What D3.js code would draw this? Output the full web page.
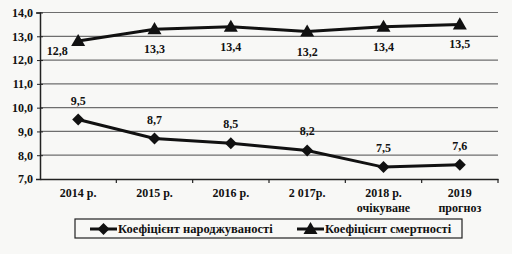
<!DOCTYPE html>
<html>
<head>
<meta charset="utf-8">
<script src="https://cdn.jsdelivr.net/npm/d3@7"></script>
<style>
  body { margin: 0; background: #f8f8f6; }
  svg { display: block; }
</style>
</head>
<body>
<svg width="512" height="254"></svg>
<script>
// data
let categories = [["2014 р."], ["2015 р."], ["2016 р."], ["2 017р."], ["2018 р.", "очікуване"], ["2019", "прогноз"]];
let birthRate = [9.5, 8.7, 8.5, 8.2, 7.5, 7.6];
let deathRate = [12.8, 13.3, 13.4, 13.2, 13.4, 13.5];
let yTicks = [7, 8, 9, 10, 11, 12, 13, 14];
let seriesNames = ["Коефіцієнт народжуваності", "Коефіцієнт смертності"];

let svg = d3.select("svg"),
    margin = {top: 12.5, right: 14, bottom: 75, left: 40},
    width = +svg.attr("width") - margin.left - margin.right,
    height = +svg.attr("height") - margin.top - margin.bottom;

let x = d3.scaleBand().domain(d3.range(categories.length)).range([0, width]);
let y = d3.scaleLinear().domain([7, 14]).range([height, 0]);
let fmt = v => d3.format(".1f")(v).replace(".", ",");

let g = svg.append("g")
    .attr("transform", "translate(" + margin.left + "," + margin.top + ")");

// gridlines
g.append("g").selectAll("line")
    .data(yTicks.slice(1))
    .join("line")
    .attr("x1", 0).attr("x2", width)
    .attr("y1", d => y(d)).attr("y2", d => y(d))
    .attr("stroke", "#6e6e6e").attr("stroke-width", 1.2);

// y axis
let yAxis = g.append("g")
    .call(d3.axisLeft(y).tickValues(yTicks).tickFormat(fmt).tickSize(4).tickPadding(3));
yAxis.select(".domain").attr("stroke", "#222").attr("stroke-width", 1.5);
yAxis.selectAll(".tick line").attr("stroke", "#222").attr("x2", 3).attr("x1", -3);
yAxis.selectAll("text").style("font-size", "12px");

// x axis
let xAxis = g.append("g")
    .attr("transform", "translate(0," + height + ")")
    .call(d3.axisBottom(x).tickSize(0).tickFormat(""));
xAxis.select(".domain").attr("stroke", "#222").attr("stroke-width", 1.5);
g.append("g").selectAll("line")
    .data(d3.range(1, categories.length + 1))
    .join("line")
    .attr("x1", d => x.step() * d).attr("x2", d => x.step() * d)
    .attr("y1", height).attr("y2", height + 4)
    .attr("stroke", "#222").attr("stroke-width", 1.2);

let cx = i => x(i) + x.bandwidth() / 2;
g.append("g").selectAll("text")
    .data(categories)
    .join("text")
    .attr("text-anchor", "middle")
    .style("font-size", "12px")
    .attr("x", (d, i) => cx(i))
    .attr("y", height + 18)
    .selectAll("tspan")
    .data(d => d)
    .join("tspan")
    .attr("x", function () { return d3.select(this.parentNode).attr("x"); })
    .attr("dy", (d, i) => i === 0 ? 0 : 15)
    .text(d => d);

let line = d3.line().x((d, i) => cx(i)).y(d => y(d));

let diamond = d3.symbol().type(d3.symbolSquare).size(72);
let triangle = d3.symbol().type(d3.symbolTriangle).size(85);

// birth rate
g.append("path").datum(birthRate)
    .attr("d", line).attr("fill", "none").attr("stroke", "#111").attr("stroke-width", 3);
g.append("g").selectAll("path")
    .data(birthRate)
    .join("path")
    .attr("d", diamond)
    .attr("transform", (d, i) => "translate(" + cx(i) + "," + y(d) + ") rotate(45)")
    .attr("fill", "#111");
g.append("g").selectAll("text")
    .data(birthRate)
    .join("text")
    .attr("text-anchor", "middle")
    .style("font-size", "12px")
    .attr("x", (d, i) => cx(i))
    .attr("y", d => y(d) - 15)
    .text(fmt);

// death rate
g.append("path").datum(deathRate)
    .attr("d", line).attr("fill", "none").attr("stroke", "#111").attr("stroke-width", 3);
g.append("g").selectAll("path")
    .data(deathRate)
    .join("path")
    .attr("d", triangle)
    .attr("transform", (d, i) => "translate(" + cx(i) + "," + (y(d) + 1) + ")")
    .attr("fill", "#111");
g.append("g").selectAll("text")
    .data(deathRate)
    .join("text")
    .attr("text-anchor", "middle")
    .style("font-size", "12px")
    .attr("x", (d, i) => i === 0 ? cx(i) - 21 : cx(i))
    .attr("y", (d, i) => i === 0 ? y(d) + 14 : y(d) + 24)
    .text(fmt);

// legend
let legend = svg.append("g").attr("transform", "translate(75,219)");
legend.append("rect")
    .attr("width", 387).attr("height", 19)
    .attr("fill", "none").attr("stroke", "#222").attr("stroke-width", 1.2);
let items = legend.selectAll("g.item")
    .data(seriesNames)
    .join("g")
    .attr("class", "item")
    .attr("transform", (d, i) => "translate(" + (i === 0 ? 15 : 222) + ",10)");
items.append("line")
    .attr("x1", 0).attr("x2", 27)
    .attr("stroke", "#111").attr("stroke-width", 3);
items.append("path")
    .attr("d", (d, i) => (i === 0 ? diamond : triangle)())
    .attr("transform", (d, i) => "translate(13.5," + (i === 0 ? 0 : 1) + ")" + (i === 0 ? " rotate(45)" : ""))
    .attr("fill", "#111");
items.append("text")
    .attr("x", 28).attr("y", 4)
    .style("font-size", "12.5px")
    .text(d => d);

// one font for every label
svg.selectAll("text")
    .style("font-family", "'Liberation Serif'")
    .style("font-weight", "bold")
    .style("fill", "#111");
</script>
</body>
</html>
